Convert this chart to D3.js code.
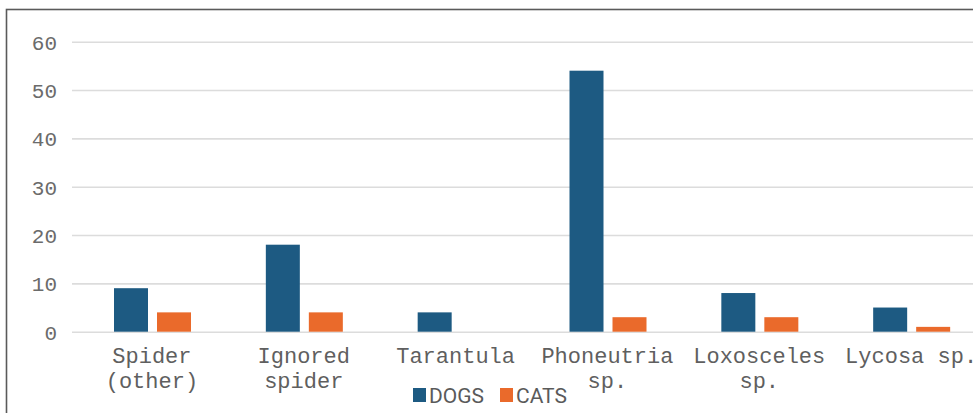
<!DOCTYPE html>
<html>
<head>
<meta charset="utf-8">
<script src="https://cdn.jsdelivr.net/npm/d3@7"></script>
<style>
  html, body { margin: 0; padding: 0; background: #fff; overflow: hidden; }
  svg { display: block; }
</style>
</head>
<body>
<svg id="chart" width="973" height="413"></svg>
<script>
// Spider bites recorded per animal group
const categories = ["Spider (other)", "Ignored spider", "Tarantula", "Phoneutria sp.", "Loxosceles sp.", "Lycosa sp."];
const categoryLines = [["Spider", "(other)"], ["Ignored", "spider"], ["Tarantula"], ["Phoneutria", "sp."], ["Loxosceles", "sp."], ["Lycosa sp."]];
const seriesNames = ["DOGS", "CATS"];
const dogs = [9, 18, 4, 54, 8, 5];
const cats = [4, 4, 0, 3, 3, 1];
const yTicks = [0, 10, 20, 30, 40, 50, 60];
const colors = ["#1d5a82", "#ea6a2b"];

const values = [dogs, cats];
const rows = categories.map((c, i) => ({ cat: c, vals: seriesNames.map((s, j) => ({ key: s, value: values[j][i] })) }));

const svg = d3.select("#chart");
const W = 973, H = 413;

// frame (runs off the right and bottom edges)
svg.append("rect")
  .attr("x", 6.5).attr("y", 9.5)
  .attr("width", 1100).attr("height", 600)
  .attr("fill", "#fff")
  .attr("stroke", "#5a5a5a")
  .attr("stroke-width", 1.6);

const plotLeft = 72;
const x0 = d3.scaleBand().domain(categories).range([76, 987]).padding(0);
const x1 = d3.scaleBand().domain(seriesNames).range([38, 115]).paddingInner(9 / 43).paddingOuter(0);
const y = d3.scaleLinear().domain([0, 60]).range([331.7, 41.7]);

// y axis with gridlines
const yAxis = svg.append("g")
  .attr("transform", `translate(${plotLeft},0)`)
  .call(d3.axisLeft(y).tickValues(yTicks).tickSizeInner(-(1000)).tickSizeOuter(0).tickPadding(15));
yAxis.select(".domain").remove();
yAxis.selectAll(".tick line").attr("stroke", "#dcdcdc").attr("stroke-width", 1.6);
yAxis.selectAll(".tick text")
  .attr("font-family", "'Liberation Mono', 'DejaVu Sans Mono', monospace")
  .attr("font-size", 21)
  .attr("fill", "#6b6b6b")
  .attr("dy", "0.36em");

// bars
const groups = svg.append("g").selectAll("g")
  .data(rows)
  .join("g")
  .attr("transform", d => `translate(${x0(d.cat)},0)`);
groups.selectAll("rect")
  .data(d => d.vals)
  .join("rect")
  .attr("x", d => x1(d.key))
  .attr("width", x1.bandwidth())
  .attr("y", d => y(d.value))
  .attr("height", d => y(0) - y(d.value))
  .attr("fill", (d, i) => colors[i]);

// x axis labels (multi-line)
const xAxis = svg.append("g")
  .attr("transform", `translate(0,${y(0)})`)
  .call(d3.axisBottom(x0).tickSize(0).tickPadding(0));
xAxis.select(".domain").remove();
xAxis.selectAll(".tick text").each(function (d, i) {
  const t = d3.select(this);
  t.text(null)
    .attr("y", 0)
    .attr("dy", null)
    .attr("font-family", "'Liberation Mono', 'DejaVu Sans Mono', monospace")
    .attr("font-size", 22)
    .attr("fill", "#5f5f5f");
  categoryLines[i].forEach((line, k) => {
    t.append("tspan")
      .attr("x", 0)
      .attr("y", 31 + k * 25.5)
      .text(line);
  });
});

// legend
const legend = svg.append("g");
const legendX = [413, 500];
seriesNames.forEach((s, i) => {
  const g = legend.append("g").attr("transform", `translate(${legendX[i]},0)`);
  g.append("rect").attr("x", 0).attr("y", 388).attr("width", 13).attr("height", 14).attr("fill", colors[i]);
  g.append("text")
    .attr("x", 16).attr("y", 402.5)
    .attr("font-family", "Roboto, 'Liberation Sans', sans-serif")
    .attr("font-size", 21)
    .attr("fill", "#5a5a5a")
    .text(s);
});
</script>
</body>
</html>
